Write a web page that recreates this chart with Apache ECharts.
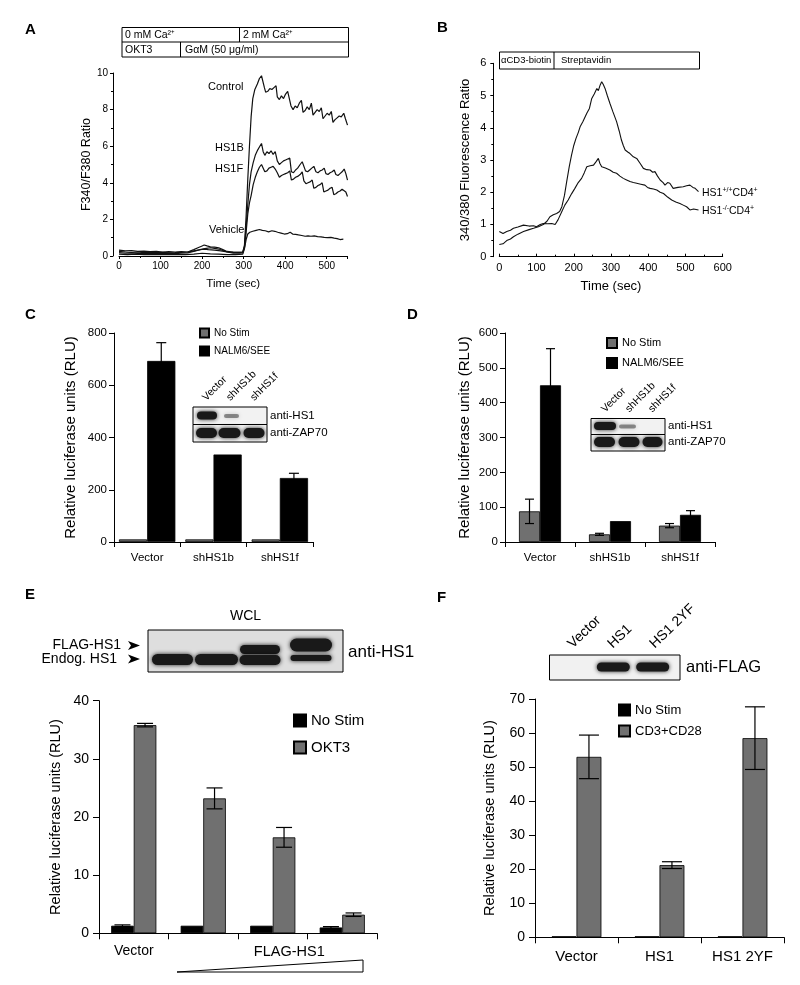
<!DOCTYPE html>
<html><head><meta charset="utf-8">
<script src="https://cdn.jsdelivr.net/npm/echarts@6/dist/echarts.min.js"></script>
<style>html,body{margin:0;padding:0;background:#fff}#c{width:800px;height:985px}</style>
</head><body><div id="c"></div>
<script>
const FONT = '"Liberation Sans", Arial, sans-serif';
const GRAY = '#707070';

// ---------- Panel A : [time (sec), F340/F380] ----------
const aControl = [[0,0.32],[15,0.28],[30,0.3],[45,0.25],[60,0.27],[75,0.24],[90,0.26],[105,0.22],[120,0.24],[135,0.22],[150,0.24],[165,0.22],[180,0.28],[195,0.34],[205,0.38],[215,0.35],[230,0.32],[245,0.28],[260,0.22],[275,0.2],[290,0.2],[298,0.22],[302,0.6],[306,2.2],[310,4.2],[314,6.0],[318,7.6],[322,8.6],[327,9.1],[333,9.4],[338,9.7],[343,9.85],[347,9.9],[350,9.2],[353,8.95],[358,9.0],[363,9.15],[368,9.1],[373,9.2],[378,9.3],[381,8.7],[386,8.55],[391,8.75],[396,8.6],[401,8.85],[406,9.0],[410,9.1],[414,8.2],[419,8.0],[424,8.2],[429,8.1],[434,8.35],[439,8.5],[443,7.85],[448,7.95],[453,8.15],[458,8.0],[463,8.35],[467,7.7],[472,7.85],[477,8.0],[482,7.9],[487,8.1],[491,7.5],[496,7.65],[501,7.8],[506,7.7],[511,7.9],[515,7.3],[520,7.45],[525,7.55],[530,7.65],[535,7.6],[541,7.8],[545,7.5],[550,7.15]];
const aHS1B = [[0,0.25],[15,0.22],[30,0.2],[45,0.22],[60,0.18],[75,0.2],[90,0.18],[105,0.2],[120,0.17],[135,0.18],[150,0.2],[165,0.22],[180,0.35],[190,0.45],[200,0.55],[205,0.6],[212,0.55],[220,0.5],[230,0.48],[240,0.45],[250,0.35],[260,0.25],[275,0.22],[290,0.2],[298,0.22],[302,0.5],[306,1.6],[310,2.8],[314,3.9],[318,4.6],[323,5.1],[328,5.5],[334,5.8],[339,6.0],[343,6.15],[347,5.7],[351,5.5],[356,5.7],[361,5.6],[366,5.75],[371,5.55],[376,5.7],[381,5.2],[386,5.0],[391,5.1],[396,5.2],[401,5.25],[406,5.3],[411,5.35],[415,4.6],[420,4.55],[425,4.7],[430,4.8],[436,5.0],[441,5.15],[445,5.25],[449,4.65],[454,4.6],[459,4.7],[464,4.8],[469,4.9],[474,4.6],[479,4.55],[484,4.65],[489,4.7],[494,4.8],[498,4.5],[503,4.45],[508,4.55],[513,4.6],[518,4.7],[522,4.45],[527,4.4],[532,4.5],[537,4.6],[542,4.75],[546,4.5],[550,4.15]];
const aHS1F = [[0,0.18],[15,0.15],[30,0.17],[45,0.14],[60,0.16],[75,0.13],[90,0.15],[105,0.14],[120,0.16],[135,0.13],[150,0.15],[165,0.17],[180,0.25],[195,0.35],[210,0.42],[220,0.45],[230,0.42],[240,0.38],[250,0.3],[260,0.22],[275,0.16],[290,0.15],[298,0.17],[302,0.45],[306,1.3],[310,2.3],[314,2.9],[318,3.3],[323,3.9],[328,4.3],[333,4.6],[338,4.85],[343,5.0],[347,5.1],[351,4.6],[356,4.65],[361,4.8],[366,4.85],[371,4.9],[376,4.75],[381,4.55],[386,4.3],[391,4.4],[396,4.45],[401,4.5],[406,4.55],[411,4.65],[415,4.15],[420,4.2],[425,4.3],[430,4.35],[436,4.45],[441,4.6],[445,4.1],[450,3.95],[455,4.0],[460,4.05],[465,4.15],[469,3.7],[474,3.75],[479,3.85],[484,3.9],[489,4.0],[493,3.5],[498,3.55],[503,3.6],[508,3.7],[513,3.75],[517,3.35],[522,3.4],[527,3.5],[532,3.55],[537,3.65],[541,3.7],[546,3.5],[550,3.25]];
const aVehicle = [[0,0.1],[20,0.08],[40,0.1],[60,0.07],[80,0.09],[100,0.08],[120,0.08],[140,0.07],[160,0.08],[180,0.1],[200,0.15],[220,0.12],[240,0.1],[260,0.08],[280,0.08],[298,0.1],[302,0.4],[306,0.9],[310,1.2],[315,1.3],[322,1.35],[330,1.4],[338,1.45],[345,1.4],[352,1.38],[360,1.32],[368,1.38],[375,1.35],[382,1.3],[390,1.25],[398,1.2],[405,1.22],[412,1.3],[418,1.2],[425,1.18],[432,1.15],[440,1.12],[448,1.08],[455,1.1],[462,1.08],[470,1.1],[478,1.06],[486,1.05],[494,1.02],[502,1.0],[510,1.02],[518,0.98],[525,0.95],[532,0.9],[540,0.92]];

// ---------- Panel B : [time (sec), 340/380 ratio] ----------
const bWT = [[0,0.38],[5,0.42],[10,0.4],[20,0.5],[30,0.55],[38,0.62],[50,0.7],[65,0.78],[80,0.84],[92,0.88],[105,0.93],[118,1.0],[128,1.1],[136,1.24],[145,1.3],[154,1.34],[162,1.4],[168,1.55],[175,1.9],[181,2.33],[188,2.8],[194,3.15],[200,3.45],[206,3.67],[212,3.85],[217,4.03],[225,4.2],[235,4.45],[242,4.6],[248,4.9],[255,5.05],[262,5.22],[266,5.15],[271,5.33],[275,5.43],[279,5.35],[284,5.22],[290,5.0],[297,4.76],[305,4.5],[315,4.19],[322,3.9],[328,3.62],[333,3.45],[338,3.31],[345,3.25],[351,3.2],[360,3.1],[369,3.05],[378,2.9],[387,2.74],[396,2.7],[405,2.69],[412,2.62],[418,2.64],[425,2.5],[432,2.38],[440,2.3],[445,2.22],[452,2.3],[458,2.28],[467,2.12],[480,2.15],[494,2.17],[503,2.2],[512,2.22],[520,2.15],[526,2.12],[535,2.02]];
const bKO = [[0,0.78],[5,0.74],[10,0.72],[20,0.78],[30,0.82],[38,0.88],[50,0.92],[65,0.98],[80,0.95],[92,0.96],[100,0.93],[110,1.0],[118,1.03],[130,1.02],[141,1.03],[150,1.0],[158,1.15],[168,1.4],[176,1.6],[185,1.76],[194,1.95],[203,2.12],[212,2.3],[221,2.43],[228,2.6],[235,2.79],[244,2.82],[253,2.84],[260,2.95],[266,3.05],[270,2.9],[275,2.79],[285,2.75],[297,2.69],[306,2.62],[315,2.59],[324,2.5],[333,2.43],[342,2.38],[351,2.33],[360,2.3],[369,2.28],[380,2.25],[391,2.22],[398,2.15],[405,2.12],[414,2.1],[423,2.07],[432,2.0],[441,1.96],[452,1.85],[463,1.76],[474,1.7],[485,1.65],[494,1.6],[503,1.55],[512,1.45],[522,1.48],[535,1.45]];

// ---------- Panel C ----------
const cCategories = ['Vector','shHS1b','shHS1f'];
const cNoStim = [10,10,10];
const cNoStimErr = [0,0,0];
const cNalm = [693,335,245];
const cNalmErr = [70,0,18];
// ---------- Panel D ----------
const dCategories = ['Vector','shHS1b','shHS1f'];
const dNoStim = [88,22,47];
const dNoStimErr = [35,3,6];
const dNalm = [450,60,78];
const dNalmErr = [105,0,12];
// ---------- Panel E ----------
const eCategories = ['Vector','FLAG-HS1 low','FLAG-HS1','FLAG-HS1 high'];
const eNoStim = [1.3,1.3,1.3,1.0];
const eNoStimErr = [0.15,0,0,0.15];
const eOKT3 = [35.8,23.2,16.5,3.2];
const eOKT3Err = [0.3,1.8,1.7,0.3];
// ---------- Panel F ----------
const fCategories = ['Vector','HS1','HS1 2YF'];
const fNoStim = [0.3,0.3,0.3];
const fCD3 = [53,21.2,58.5];
const fCD3Err = [6.4,1.0,9.2];

const chart = echarts.init(document.getElementById('c'), null, {renderer:'canvas'});

const axBase = (o) => Object.assign({
  axisLine:{show:true, onZero:false, lineStyle:{color:'#000', width:1}},
  splitLine:{show:false},
}, o, {
  axisLabel: Object.assign({color:'#000', fontFamily:FONT}, o.axisLabel||{}),
  axisTick: Object.assign({show:true, lineStyle:{color:'#000', width:1}}, o.axisTick||{}),
  nameTextStyle: Object.assign({color:'#000', fontFamily:FONT}, o.nameTextStyle||{})
});

function lineSeries(data){
  return {type:'line', xAxisIndex:0, yAxisIndex:0, data, showSymbol:false, symbol:'none',
    lineStyle:{color:'#111', width:1.2}, silent:true};
}
function lineSeriesB(data){
  return {type:'line', xAxisIndex:1, yAxisIndex:1, data, showSymbol:false, symbol:'none',
    lineStyle:{color:'#111', width:1.1}, silent:true};
}
function errSeries(ax, vals, errs, side, gap, cap){
  return {type:'custom', xAxisIndex:ax, yAxisIndex:ax, z:5, silent:true,
    data: vals.map((v,i)=>[i, v, errs[i]]),
    renderItem(params, api){
      const i = api.value(0), v = api.value(1), e = api.value(2);
      if (!e) return null;
      const band = api.size([1,0])[0];
      const x = api.coord([i, v])[0] + side*band*(1-gap)/4;
      const top = api.coord([i, v+e])[1], bot = api.coord([i, Math.max(0, v-e)])[1];
      const st = {stroke:'#000', lineWidth:1.2};
      return {type:'group', children:[
        {type:'line', shape:{x1:x,y1:top,x2:x,y2:bot}, style:st},
        {type:'line', shape:{x1:x-cap/2,y1:top,x2:x+cap/2,y2:top}, style:st},
        {type:'line', shape:{x1:x-cap/2,y1:bot,x2:x+cap/2,y2:bot}, style:st}
      ]};
    }};
}
function bar(name, ax, data, color, gap){
  return {name, type:'bar', xAxisIndex:ax, yAxisIndex:ax, data, barGap:'0%', barCategoryGap:gap,
    itemStyle:{color, borderColor:'#000', borderWidth:0.8}, silent:true};
}
const strip = n => n.slice(2);

// graphic helpers
function T(x, y, text, size, o={}){
  const el = {type:'text', x, y, z:20, silent:true, style:{text, fill:'#000', fontSize:size, fontFamily:FONT,
    fontWeight:o.bold?'bold':'normal', align:o.align||'left', verticalAlign:o.va||'middle',
    textAlign:o.align||'left', textVerticalAlign:o.va||'middle'}};
  if (o.rot) el.rotation = o.rot*Math.PI/180;
  if (o.rich) el.style.rich = o.rich;
  return el;
}
function R(x, y, w, h, fill){
  return {type:'rect', z:15, silent:true, shape:{x, y, width:w, height:h}, style:{fill:fill||'#fff', stroke:'#000', lineWidth:1}};
}
function L(x1, y1, x2, y2){
  return {type:'line', z:16, silent:true, shape:{x1,y1,x2,y2}, style:{stroke:'#000', lineWidth:1}};
}
function B(cx, cy, w, h, a){
  return {type:'rect', z:17, silent:true, shape:{x:cx-w/2, y:cy-h/2, width:w, height:h, r:h/2},
    style:{fill:'rgba(25,25,25,'+(a||1)+')', shadowBlur:4, shadowColor:'rgba(0,0,0,'+(0.85*(a||1))+')'}};
}
function arrowHead(x, y){
  return {type:'polygon', z:16, silent:true, shape:{points:[[x,y-4.5],[x+12,y],[x,y+4.5],[x+3,y]]}, style:{fill:'#000'}};
}

const supRich = {n:{fontSize:10.5, fontFamily:FONT, fill:'#000'}, s:{fontSize:7, fontFamily:FONT, fill:'#000', verticalAlign:'top', padding:[0,0,6,0]}};

const graphics = [
  // panel letters
  T(25,30,'A',15,{bold:true}), T(437,28,'B',15,{bold:true}),
  T(25,315,'C',15,{bold:true}), T(407,315,'D',15,{bold:true}),
  T(25,595,'E',15,{bold:true}), T(437,598,'F',15,{bold:true}),
  // A header box
  R(122,27.5,226.5,29.5), L(122,42,348.5,42), L(239.5,27.5,239.5,42), L(180.5,42,180.5,57),
  T(125,35,'0 mM Ca²⁺',10.5), T(243,35,'2 mM Ca²⁺',10.5), T(125,50,'OKT3',10.5), T(185,50,'GαM (50 μg/ml)',10.5),
  // A line labels
  T(208,87,'Control',11), T(215,148,'HS1B',11), T(215,168.5,'HS1F',11), T(209,230,'Vehicle',11),
  // B header box
  R(499.5,52,200,17), L(554,52,554,69),
  T(501,60.5,'αCD3-biotin',9.5), T(561,60.5,'Streptavidin',9.5),
  // B line labels
  T(702,193,'{n|HS1}{s|+/+}{n|CD4}{s|+}',10.5,{rich:supRich}),
  T(702,211,'{n|HS1}{s|-/-}{n|CD4}{s|+}',10.5,{rich:supRich}),
  // C inset blot
  R(193,407,74,17.5,'#f2f2f2'), R(193,424.5,74,17.5,'#f2f2f2'),
  B(207,415.5,20,8), B(231.5,416,15,4,0.45),
  B(206.5,433,21,10), B(229.5,433,22,10), B(254,433,21,10),
  T(208,403,'Vector',10.5,{rot:45,va:'bottom'}), T(232,403,'shHS1b',10.5,{rot:45,va:'bottom'}), T(256,403,'shHS1f',10.5,{rot:45,va:'bottom'}),
  T(270,416,'anti-HS1',11.5), T(270,433,'anti-ZAP70',11.5),
  // D inset blot
  R(591,418.5,74,16,'#f2f2f2'), R(591,434.5,74,16.5,'#f2f2f2'),
  B(605,426,22,8), B(627.5,426.5,17,4,0.45),
  B(604.5,442,21,10), B(629,442,21,10), B(652.5,442,20,10),
  T(607,414.5,'Vector',10.5,{rot:45,va:'bottom'}), T(631,414.5,'shHS1b',10.5,{rot:45,va:'bottom'}), T(654,414.5,'shHS1f',10.5,{rot:45,va:'bottom'}),
  T(668,426,'anti-HS1',11.5), T(668,442,'anti-ZAP70',11.5),
  // E blot
  T(245.5,616.5,'WCL',14,{align:'center'}),
  R(148,630,195,42,'#dedede'),
  B(172.5,659.5,41,11), B(216.5,659.5,43,11),
  B(260,649.5,40,9), B(260,660,41,10),
  B(311,645,42,13), B(311,658,41,6),
  T(121,645,'FLAG-HS1',14,{align:'right'}), T(117,659.5,'Endog. HS1',14,{align:'right'}),
  arrowHead(128,645.5), arrowHead(128,659),
  T(348,652,'anti-HS1',17),
  // E wedge
  {type:'polygon', z:16, silent:true, shape:{points:[[177,972],[363,972],[363,960]]}, style:{fill:'#fff', stroke:'#000', lineWidth:1}},
  // F blot
  R(549.5,655,130.5,25,'#f1f1f1'),
  B(613.3,667,33,9), B(652.7,667,33,9),
  T(575,651,'Vector',14,{rot:44,va:'bottom'}), T(615,651,'HS1',14,{rot:44,va:'bottom'}), T(657,651,'HS1 2YF',14,{rot:44,va:'bottom'}),
  T(686,667,'anti-FLAG',16.5)
];

const option = {
  animation:false,
  backgroundColor:'#fff',
  textStyle:{fontFamily:FONT},
  grid:[
    {left:119, top:73, width:228.5, height:183},
    {left:499.3, top:63.3, width:223.4, height:193.4},
    {left:114, top:333, width:199, height:209},
    {left:505, top:333, width:210, height:209},
    {left:99, top:700.7, width:278, height:232.6},
    {left:535, top:699, width:249, height:238.3}
  ],
  xAxis:[
    axBase({gridIndex:0, type:'value', min:0, max:550, interval:100,
      minorTick:{show:true, splitNumber:2, length:2, lineStyle:{color:'#000'}}, axisTick:{length:3},
      axisLabel:{fontSize:10, margin:5, showMaxLabel:false},
      name:'Time (sec)', nameLocation:'middle', nameGap:22, nameTextStyle:{fontSize:11.5}}),
    axBase({gridIndex:1, type:'value', min:0, max:600, interval:100,
      minorTick:{show:true, splitNumber:2, length:2, lineStyle:{color:'#000'}}, axisTick:{length:3, inside:true},
      axisLabel:{fontSize:11, margin:6},
      name:'Time (sec)', nameLocation:'middle', nameGap:23, nameTextStyle:{fontSize:13}}),
    axBase({gridIndex:2, type:'category', data:cCategories, axisTick:{length:5, alignWithLabel:false},
      axisLabel:{fontSize:11.5, margin:10, interval:0}}),
    axBase({gridIndex:3, type:'category', data:dCategories, axisTick:{length:5, alignWithLabel:false},
      axisLabel:{fontSize:11.5, margin:10, interval:0}}),
    axBase({gridIndex:4, type:'category', data:eCategories, axisTick:{length:6, alignWithLabel:false},
      axisLabel:{fontSize:14, margin:11, interval:0,
        formatter:(v,i)=> i===0 ? v : (i===2 ? '{f|'+v+'}' : ''),
        rich:{f:{fontSize:14.5, fontFamily:FONT, color:'#000', padding:[0,0,0,33]}}}}),
    axBase({gridIndex:5, type:'category', data:fCategories, axisTick:{length:6, alignWithLabel:false},
      axisLabel:{fontSize:15, margin:12, interval:0}})
  ],
  yAxis:[
    axBase({gridIndex:0, type:'value', min:0, max:10, interval:2, offset:6,
      minorTick:{show:true, splitNumber:2, length:2, lineStyle:{color:'#000'}}, axisTick:{length:3},
      axisLabel:{fontSize:10, margin:5},
      name:'F340/F380 Ratio', nameLocation:'middle', nameGap:18, nameTextStyle:{fontSize:12.5}}),
    axBase({gridIndex:1, type:'value', min:0, max:6, interval:1, offset:6,
      minorTick:{show:true, splitNumber:2, length:2, lineStyle:{color:'#000'}}, axisTick:{length:3},
      axisLabel:{fontSize:11, margin:7},
      name:'340/380 Fluorescence Ratio', nameLocation:'middle', nameGap:21, nameTextStyle:{fontSize:13}}),
    axBase({gridIndex:2, type:'value', min:0, max:800, interval:200, axisTick:{length:5},
      axisLabel:{fontSize:11.5, margin:7},
      name:'Relative luciferase units (RLU)', nameLocation:'middle', nameGap:36, nameTextStyle:{fontSize:15}}),
    axBase({gridIndex:3, type:'value', min:0, max:600, interval:100, axisTick:{length:5},
      axisLabel:{fontSize:11.5, margin:7},
      name:'Relative luciferase units (RLU)', nameLocation:'middle', nameGap:33, nameTextStyle:{fontSize:15}}),
    axBase({gridIndex:4, type:'value', min:0, max:40, interval:10, axisTick:{length:6},
      axisLabel:{fontSize:14, margin:10},
      name:'Relative luciferase units (RLU)', nameLocation:'middle', nameGap:36, nameTextStyle:{fontSize:14.5}}),
    axBase({gridIndex:5, type:'value', min:0, max:70, interval:10, axisTick:{length:6},
      axisLabel:{fontSize:14, margin:10},
      name:'Relative luciferase units (RLU)', nameLocation:'middle', nameGap:38, nameTextStyle:{fontSize:14.5}})
  ],
  legend:[
    {data:['C:No Stim','C:NALM6/SEE'], left:199, top:327.5, orient:'vertical', padding:0, itemWidth:9, itemHeight:9, itemGap:7,
      icon:'rect', formatter:strip, selectedMode:false, textStyle:{fontSize:10, lineHeight:9, color:'#000', fontFamily:FONT}},
    {data:['D:No Stim','D:NALM6/SEE'], left:606, top:337, orient:'vertical', padding:0, itemWidth:10, itemHeight:10, itemGap:8,
      icon:'rect', formatter:strip, selectedMode:false, textStyle:{fontSize:11, lineHeight:10, color:'#000', fontFamily:FONT}},
    {data:['E:No Stim','E:OKT3'], left:293, top:713, orient:'vertical', padding:0, itemWidth:12, itemHeight:12, itemGap:12,
      icon:'rect', formatter:strip, selectedMode:false, textStyle:{fontSize:15, lineHeight:12, color:'#000', fontFamily:FONT}},
    {data:['F:No Stim','F:CD3+CD28'], left:618, top:703.5, orient:'vertical', padding:0, itemWidth:11, itemHeight:11, itemGap:8,
      icon:'rect', formatter:strip, selectedMode:false, textStyle:{fontSize:13, lineHeight:11, color:'#000', fontFamily:FONT}}
  ],
  series:[
    lineSeries(aControl), lineSeries(aHS1B), lineSeries(aHS1F), lineSeries(aVehicle),
    lineSeriesB(bWT), lineSeriesB(bKO),
    bar('C:No Stim',2,cNoStim,GRAY,'15%'), bar('C:NALM6/SEE',2,cNalm,'#000','15%'),
    errSeries(2,cNoStim,cNoStimErr,-1,0.15,8), errSeries(2,cNalm,cNalmErr,1,0.15,10),
    bar('D:No Stim',3,dNoStim,GRAY,'40%'), bar('D:NALM6/SEE',3,dNalm,'#000','40%'),
    errSeries(3,dNoStim,dNoStimErr,-1,0.40,9), errSeries(3,dNalm,dNalmErr,1,0.40,9),
    bar('E:No Stim',4,eNoStim,'#000','35%'), bar('E:OKT3',4,eOKT3,GRAY,'35%'),
    errSeries(4,eNoStim,eNoStimErr,-1,0.35,16), errSeries(4,eOKT3,eOKT3Err,1,0.35,16),
    bar('F:No Stim',5,fNoStim,'#000','40%'), bar('F:CD3+CD28',5,fCD3,GRAY,'40%'),
    errSeries(5,fNoStim,[0,0,0],-1,0.40,20), errSeries(5,fCD3,fCD3Err,1,0.40,20)
  ],
  graphic:{elements:graphics}
};
chart.setOption(option);
</script>
</body></html>
